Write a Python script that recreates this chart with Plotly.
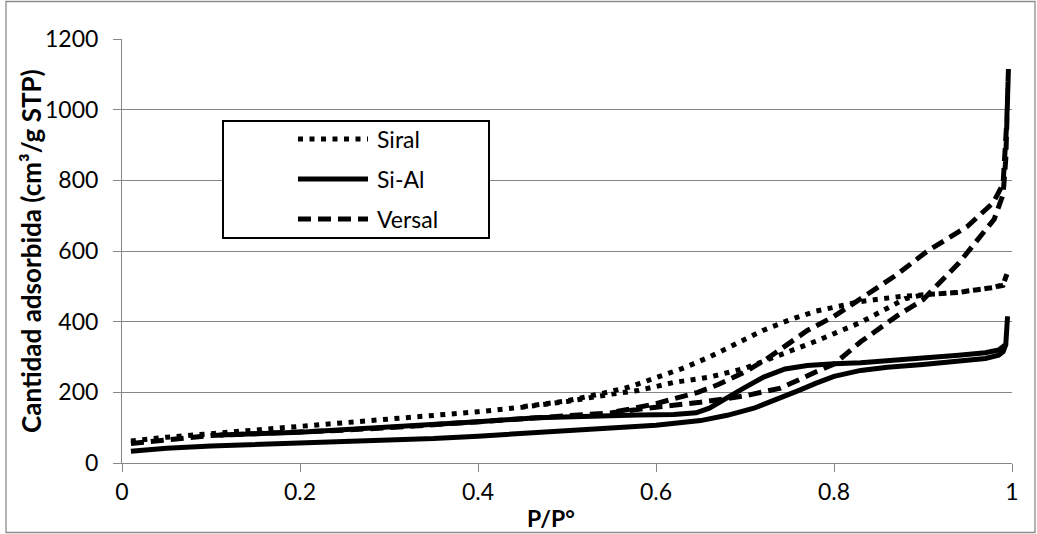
import plotly.graph_objects as go

# ---- data ----
siral_ads_p = [0.01, 0.03, 0.05, 0.08, 0.1, 0.15, 0.2, 0.25, 0.3, 0.35, 0.4, 0.45, 0.5, 0.55,
               0.58, 0.62, 0.66, 0.70, 0.74, 0.78, 0.83, 0.85, 0.88, 0.9, 0.94, 0.98, 0.99, 0.995]
siral_ads_v = [62, 68, 73, 79, 83, 93, 105, 113, 122, 132, 145, 158, 174, 195,
               205, 228, 243, 268, 305, 345, 398, 425, 465, 476, 483, 497, 505, 540]
siral_des_p = [0.99, 0.98, 0.94, 0.9, 0.87, 0.83, 0.8, 0.78, 0.75, 0.72, 0.7, 0.66, 0.63,
               0.6, 0.57, 0.54, 0.5, 0.45]
siral_des_v = [503, 497, 483, 476, 470, 457, 440, 430, 405, 375, 350, 300, 268,
               240, 215, 197, 176, 159]

sial_ads_p = [0.01, 0.03, 0.05, 0.1, 0.15, 0.2, 0.25, 0.3, 0.35, 0.4, 0.45, 0.5, 0.55, 0.6,
              0.65, 0.68, 0.71, 0.74, 0.76, 0.78, 0.8, 0.83, 0.86, 0.9, 0.94, 0.97, 0.985,
              0.99, 0.993, 0.995]
sial_ads_v = [33, 38, 42, 48, 52, 56, 60, 64, 69, 76, 83, 90, 98, 107,
              120, 135, 155, 183, 205, 226, 245, 262, 271, 279, 287, 296, 305,
              315, 335, 415]
sial_des_p = [0.993, 0.985, 0.97, 0.94, 0.9, 0.86, 0.83, 0.8, 0.77, 0.745, 0.72, 0.70, 0.68,
              0.66, 0.645, 0.62, 0.58, 0.55, 0.5, 0.466, 0.4, 0.35, 0.3, 0.25, 0.2, 0.15, 0.11]
sial_des_v = [335, 320, 312, 305, 297, 290, 284, 281, 276, 266, 242, 214, 183,
              155, 142, 137, 136, 134, 131, 128, 117, 109, 101, 94, 87, 83, 79]

versal_ads_p = [0.01, 0.03, 0.05, 0.07, 0.1, 0.15, 0.2, 0.25, 0.3, 0.35, 0.4, 0.45, 0.5, 0.55,
                0.6, 0.65, 0.7, 0.74, 0.78, 0.8, 0.83, 0.87, 0.9, 0.94, 0.98, 0.99, 0.993, 0.996]
versal_ads_v = [55, 60, 65, 70, 78, 83, 87, 93, 100, 108, 116, 124, 132, 142,
                158, 172, 190, 212, 258, 280, 343, 415, 462, 565, 690, 760, 860, 1115]
versal_des_p = [0.994, 0.99, 0.979, 0.95, 0.904, 0.87, 0.828, 0.8, 0.77, 0.723, 0.7, 0.67,
                0.647, 0.62, 0.6, 0.57, 0.55]
versal_des_v = [960, 790, 737, 670, 598, 532, 460, 415, 375, 292, 258, 222,
                200, 182, 168, 152, 143]

series_names = ["Siral", "Si-Al", "Versal"]
x_ticks = [0, 0.2, 0.4, 0.6, 0.8, 1]
x_ticktext = ["0", "0.2", "0.4", "0.6", "0.8", "1"]
y_ticks = [0, 200, 400, 600, 800, 1000, 1200]
y_ticktext = ["0", "200", "400", "600", "800", "1000", "1200"]

# ---- styles ----
FONT = "Lato, 'Open Sans', sans-serif"
LW = 5
styles = {
    "Siral": dict(color="black", width=LW, dash="5px,6.5px"),
    "Si-Al": dict(color="black", width=LW, dash="solid"),
    "Versal": dict(color="black", width=LW, dash="13px,7px"),
}

W, H = 1037, 534
ML, MR, MT, MB = 122, 25, 39, 71
PW, PH = W - ML - MR, H - MT - MB


def px(xp):
    return (xp - ML) / PW


def py(yp):
    return (H - MB - yp) / PH


fig = go.Figure()
data = {
    "Siral": (siral_ads_p + siral_des_p, siral_ads_v + siral_des_v),
    "Si-Al": (sial_ads_p + sial_des_p, sial_ads_v + sial_des_v),
    "Versal": (versal_ads_p + versal_des_p, versal_ads_v + versal_des_v),
}
for name in series_names:
    xs, ys = data[name]
    fig.add_trace(go.Scatter(x=xs, y=ys, mode="lines", name=name,
                             line=styles[name], showlegend=False,
                             hoverinfo="x+y+name"))

shapes = []
# outer chart border
shapes.append(dict(type="rect", xref="paper", yref="paper",
                   x0=px(6), x1=px(1035), y0=py(532.5), y1=py(1.5),
                   line=dict(color="#8c8c8c", width=1.3), layer="below"))
# legend box
shapes.append(dict(type="rect", xref="paper", yref="paper",
                   x0=px(223), x1=px(489), y0=py(238), y1=py(121),
                   line=dict(color="black", width=2), fillcolor="white", layer="above"))
annotations = []
rows = [139, 179, 219]
for name, yy in zip(series_names, rows):
    st = styles[name]
    shapes.append(dict(type="line", xref="paper", yref="paper",
                       x0=px(298), x1=px(368), y0=py(yy), y1=py(yy),
                       line=dict(color="black", width=st["width"], dash=st["dash"]),
                       layer="above"))
    annotations.append(dict(x=px(375), y=py(yy), xref="paper", yref="paper",
                            text=name, showarrow=False, xanchor="left", yanchor="middle",
                            font=dict(family=FONT, size=23, color="black")))

annotations.append(dict(x=px(551), y=py(518), xref="paper", yref="paper",
                        text="<b>P/P°</b>", showarrow=False, xanchor="center", yanchor="middle",
                        font=dict(family=FONT, size=23, color="black")))
annotations.append(dict(x=px(31), y=py(251), xref="paper", yref="paper",
                        text="<b>Cantidad adsorbida (cm³/g STP)</b>", showarrow=False,
                        textangle=-90, xanchor="center", yanchor="middle",
                        font=dict(family=FONT, size=26, color="black")))

fig.update_layout(
    width=W, height=H,
    margin=dict(l=ML, r=MR, t=MT, b=MB, pad=0),
    paper_bgcolor="white", plot_bgcolor="white",
    font=dict(family=FONT, size=23, color="black"),
    shapes=shapes, annotations=annotations,
    xaxis=dict(range=[0, 1], tickvals=x_ticks, ticktext=x_ticktext,
               showgrid=False, zeroline=False, showline=True, linecolor="#868686",
               linewidth=1, ticks="outside", ticklen=8, tickcolor="#868686",
               tickfont=dict(family=FONT, size=23, color="black")),
    yaxis=dict(range=[0, 1200], tickvals=y_ticks, ticktext=y_ticktext,
               showgrid=True, gridcolor="#868686", gridwidth=1, zeroline=False,
               showline=True, linecolor="#868686", linewidth=1,
               ticks="outside", ticklen=8, tickcolor="#868686",
               ticklabelstandoff=10,
               tickfont=dict(family=FONT, size=23, color="black")),
)

fig.write_html("out.html")
